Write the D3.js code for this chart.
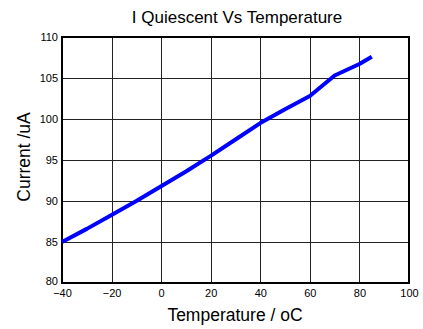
<!DOCTYPE html>
<html><head><meta charset="utf-8">
<script src="https://cdn.jsdelivr.net/npm/d3@7"></script>
<style>body{margin:0;background:#fff}svg{display:block}text{font-family:"Liberation Sans",Arial,sans-serif;fill:#000}</style>
</head><body><svg id="c" width="423" height="329"></svg>
<script>
const temps = [-40, -30, -20, -10, 0, 10, 20, 30, 40, 50, 60, 70, 80, 85];
const current = [85.0, 86.6, 88.3, 90.0, 91.8, 93.6, 95.5, 97.5, 99.5, 101.2, 102.8, 105.3, 106.7, 107.6];
const xTicks = [-40, -20, 0, 20, 40, 60, 80, 100];
const yTicks = [80, 85, 90, 95, 100, 105, 110];

const svg = d3.select("#c");
const L = 62, R = 409, T = 37, B = 283;
const x = d3.scaleLinear().domain([-40, 100]).range([L, R]);
const y = d3.scaleLinear().domain([80, 110]).range([B, T]);

// grid
const g = svg.append("g").attr("shape-rendering", "crispEdges");
g.selectAll(".vg").data(xTicks).join("line")
  .attr("x1", d => Math.round(x(d)) + 0.5).attr("x2", d => Math.round(x(d)) + 0.5)
  .attr("y1", T).attr("y2", B).attr("stroke", "#222").attr("stroke-width", 1);
g.selectAll(".hg").data(yTicks).join("line")
  .attr("y1", d => Math.round(y(d)) + 0.5).attr("y2", d => Math.round(y(d)) + 0.5)
  .attr("x1", L).attr("x2", R).attr("stroke", "#222").attr("stroke-width", 1);

// axes
const xa = svg.append("g").attr("transform", `translate(0,${B})`)
  .call(d3.axisBottom(x).tickValues(xTicks).tickSize(0).tickPadding(6).tickFormat(d3.format("d")));
xa.select(".domain").remove();
xa.selectAll("text").attr("font-size", 11).attr("font-family", "Liberation Sans, Arial, sans-serif");
const ya = svg.append("g").attr("transform", `translate(${L},0)`)
  .call(d3.axisLeft(y).tickValues(yTicks).tickSize(0).tickPadding(4).tickFormat(d3.format("d")));
ya.select(".domain").remove();
ya.selectAll("text").attr("font-size", 11).attr("font-family", "Liberation Sans, Arial, sans-serif");
ya.selectAll(".tick").filter(d => d === 80).select("text").attr("dy", "0.1em");

// frame
svg.append("rect").attr("x", L).attr("y", T).attr("width", R - L).attr("height", B - T)
  .attr("fill", "none").attr("stroke", "#000").attr("stroke-width", 2);

// line
svg.append("path").datum(temps.map((t, i) => [t, current[i]]))
  .attr("d", d3.line().x(d => x(d[0])).y(d => y(d[1])))
  .attr("fill", "none").attr("stroke", "#0000ff").attr("stroke-width", 4)
  .attr("stroke-linejoin", "round");

// titles
svg.append("text").attr("x", 237).attr("y", 23).attr("text-anchor", "middle")
  .attr("font-size", 17).text("I Quiescent Vs Temperature");
svg.append("text").attr("x", 235).attr("y", 321).attr("text-anchor", "middle")
  .attr("font-size", 17.5).text("Temperature / oC");
svg.append("text").attr("transform", "translate(30,157) rotate(-90)").attr("text-anchor", "middle")
  .attr("font-size", 17.5).text("Current /uA");
</script></body></html>
